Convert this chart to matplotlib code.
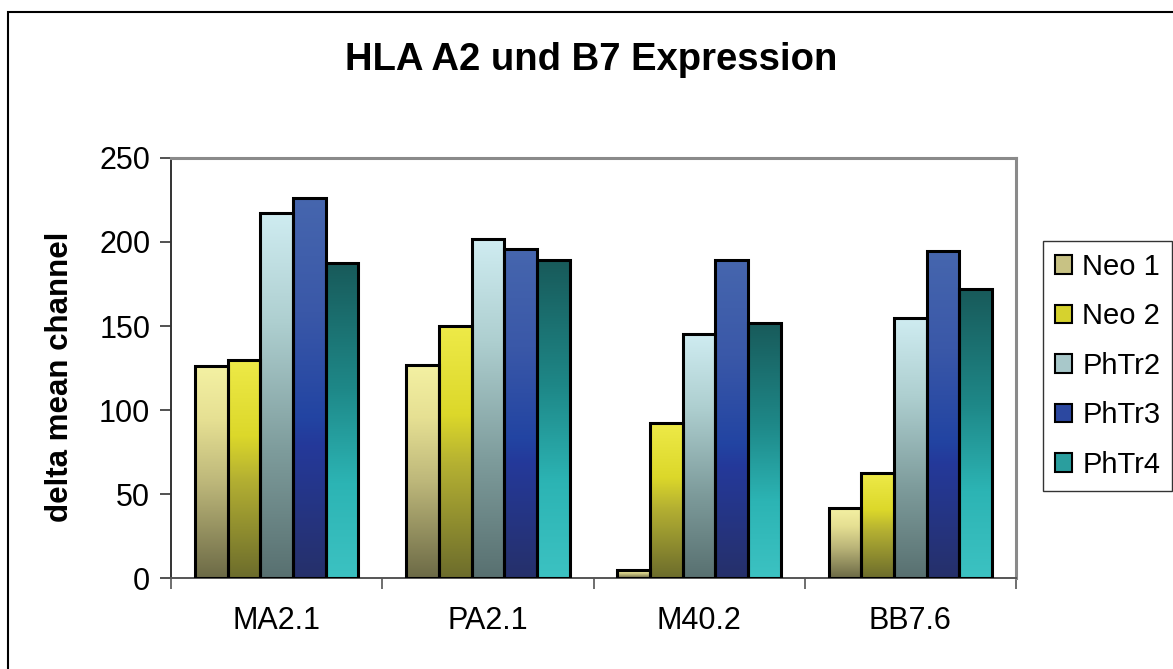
import matplotlib
matplotlib.use('Agg')
import matplotlib.pyplot as plt
import numpy as np
from matplotlib.colors import LinearSegmentedColormap
from matplotlib.patches import Patch, Rectangle

plt.rcParams['font.family'] = ['Liberation Sans', 'DejaVu Sans']

# Data
categories = ['MA2.1', 'PA2.1', 'M40.2', 'BB7.6']
series = ['Neo 1', 'Neo 2', 'PhTr2', 'PhTr3', 'PhTr4']
neo1 = [126, 127, 4.5, 41.5]
neo2 = [130, 150, 92, 62.5]
phtr2 = [217, 201.5, 145, 154.5]
phtr3 = [226, 196, 189, 194.5]
phtr4 = [187.5, 189, 152, 172]
values = [neo1, neo2, phtr2, phtr3, phtr4]

# gradient stops per series, (position from bottom, colour)
gradients = [
    [(0.0, '#6C6A46'), (0.45, '#BDB77A'), (0.75, '#E6E093'), (1.0, '#F4F1A3')],
    [(0.0, '#6C6C2C'), (0.45, '#B4B032'), (0.65, '#DCD82A'), (1.0, '#EEEA48')],
    [(0.0, '#587070'), (0.35, '#7E9C9C'), (0.7, '#AECFD0'), (1.0, '#CFECF1')],
    [(0.0, '#26306A'), (0.35, '#24399A'), (0.42, '#2244A2'), (0.7, '#3A58A8'), (1.0, '#4666AE')],
    [(0.0, '#3CC2C2'), (0.3, '#2CB4B4'), (0.6, '#1E8888'), (1.0, '#185A5A')],
]
legend_colors = ['#C8C284', '#D6D22E', '#A8C8CA', '#2C48A0', '#2A9E9E']

fig = plt.figure(figsize=(11.73, 6.69), dpi=100)
ax = fig.add_axes([171 / 1173, 91 / 669, 845 / 1173, 420 / 669])

n = len(series)
bar_w = 0.155
group_w = bar_w * n
x = np.arange(len(categories))
grad = np.linspace(1, 0, 256).reshape(-1, 1)

for i, (vals, stops) in enumerate(zip(values, gradients)):
    cmap = LinearSegmentedColormap.from_list(series[i], stops)
    for j, v in enumerate(vals):
        x0 = x[j] - group_w / 2 + i * bar_w
        ax.imshow(grad, cmap=cmap, vmin=0, vmax=1, extent=[x0, x0 + bar_w, 0, v],
                  aspect='auto', origin='upper', zorder=2, interpolation='bilinear')
    ax.bar(x - group_w / 2 + i * bar_w, vals, width=bar_w, align='edge',
           fill=False, edgecolor='black', linewidth=2.2, zorder=3)

ax.set_xlim(-0.5, len(categories) - 0.5)
ax.set_ylim(0, 250)
ax.set_yticks([0, 50, 100, 150, 200, 250])
ax.set_xticks(x)
ax.set_xticklabels(categories)
ax.set_xticks(np.arange(len(categories) + 1) - 0.5, minor=True)
ax.tick_params(axis='x', which='major', length=0, pad=20, labelsize=22)
ax.tick_params(axis='x', which='minor', length=8, width=1.2, color='#555555')
ax.tick_params(axis='y', length=8, width=1.2, color='#333333', labelsize=22, pad=7)

ax.spines['left'].set_color('#333333')
ax.spines['left'].set_linewidth(1.4)
ax.spines['bottom'].set_color('#555555')
ax.spines['bottom'].set_linewidth(1.4)
for s in ['top', 'right']:
    ax.spines[s].set_color('#8A8A8A')
    ax.spines[s].set_linewidth(2.2)

fig.text(60 / 1173, 1 - 377 / 669, 'delta mean channel', rotation=90, ha='center', va='center',
         fontsize=22.5, fontweight='bold')
fig.text(0.504, 0.91, 'HLA A2 und B7 Expression', ha='center', va='center',
         fontsize=27.5, fontweight='bold')

handles = [Patch(facecolor=c, edgecolor='black', linewidth=1.5) for c in legend_colors]
fig.legend(handles, series, loc='upper left', bbox_to_anchor=(1043 / 1173, 1 - 241 / 669),
           frameon=True, fancybox=False, edgecolor='black', fontsize=21,
           handlelength=0.6, handleheight=0.6, handletextpad=0.35, labelspacing=0.74,
           borderpad=0.4, borderaxespad=0)

# chart-area frame (runs off the right and bottom edges)
fig.patches.append(Rectangle((8 / 1173, -0.1), 1.2, 1.1 - 12 / 669, transform=fig.transFigure,
                             fill=False, edgecolor='black', linewidth=1.5))

fig.savefig('out.png', dpi=100)
